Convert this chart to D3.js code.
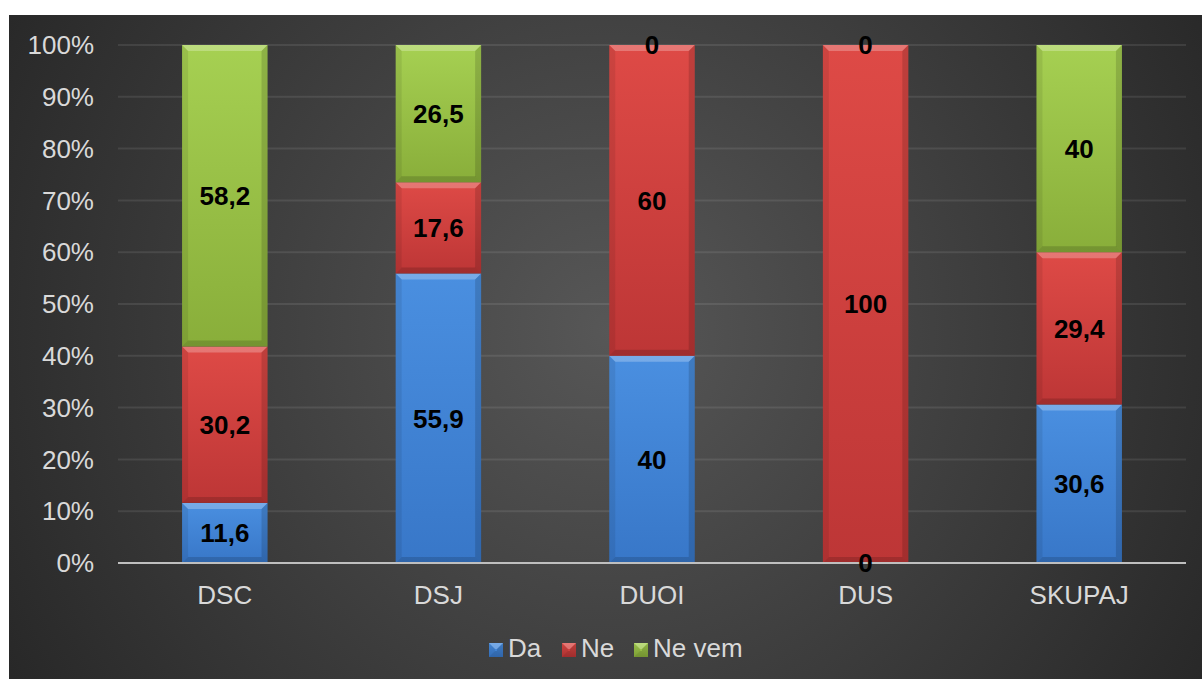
<!DOCTYPE html>
<html>
<head>
<meta charset="utf-8">
<script src="https://cdn.jsdelivr.net/npm/d3@7"></script>
<style>
  body { margin: 0; background: #fff; }
  text { font-family: "Liberation Sans", Arial, sans-serif; }
</style>
</head>
<body>
<div id="chart"></div>
<script>
// data
var categories = ["DSC", "DSJ", "DUOI", "DUS", "SKUPAJ"];
var da    = [11.6, 55.9, 40, 0, 30.6];
var ne    = [30.2, 17.6, 60, 100, 29.4];
var neVem = [58.2, 26.5, 0, 0, 40];
var seriesNames = ["Da", "Ne", "Ne vem"];
var yTicks = [0, 10, 20, 30, 40, 50, 60, 70, 80, 90, 100];

var width = 1202, height = 679;

var svg = d3.select("#chart").append("svg")
    .attr("width", width)
    .attr("height", height);

var defs = svg.append("defs");

// background gradient
var bg = defs.append("radialGradient")
    .attr("id", "bg")
    .attr("gradientUnits", "userSpaceOnUse")
    .attr("cx", 610).attr("cy", 330).attr("r", 720);
bg.append("stop").attr("offset", "0%").attr("stop-color", "#575757");
bg.append("stop").attr("offset", "55%").attr("stop-color", "#3c3c3c");
bg.append("stop").attr("offset", "100%").attr("stop-color", "#262626");

svg.append("rect")
    .attr("x", 9).attr("y", 15)
    .attr("width", width - 9).attr("height", height - 15)
    .style("fill", "url(#bg)");

// series colours
var colors = [
  {top: "#4a8fe0", bottom: "#3877c8"},
  {top: "#de4a46", bottom: "#bd3636"},
  {top: "#a6d052", bottom: "#89ae3a"}
];

colors.forEach(function(c, i) {
  var g = defs.append("linearGradient")
      .attr("id", "grad" + i)
      .attr("x1", 0).attr("y1", 0).attr("x2", 0).attr("y2", 1);
  g.append("stop").attr("offset", "0%").attr("stop-color", c.top);
  g.append("stop").attr("offset", "100%").attr("stop-color", c.bottom);
});

var x = d3.scaleBand()
    .domain(categories)
    .range([118, 1186])
    .paddingInner(0.6)
    .paddingOuter(0.3);

var y = d3.scaleLinear()
    .domain([0, 100])
    .range([563, 45]);

// gridlines
svg.selectAll(".grid")
    .data(yTicks.slice(1))
    .enter()
    .append("line")
    .attr("class", "grid")
    .attr("x1", 118).attr("x2", 1186)
    .attr("y1", function(d) { return y(d); })
    .attr("y2", function(d) { return y(d); })
    .style("stroke", "rgba(255,255,255,0.09)")
    .style("stroke-width", 2);

// y tick labels
svg.selectAll(".ytick")
    .data(yTicks)
    .enter()
    .append("text")
    .attr("class", "ytick")
    .attr("x", 94)
    .attr("y", function(d) { return y(d); })
    .attr("dy", "0.35em")
    .attr("text-anchor", "end")
    .style("font-size", "26px")
    .style("fill", "#d9d9d9")
    .text(function(d) { return d + "%"; });

// stack
var rows = categories.map(function(c, i) {
  return {cat: c, Da: da[i], Ne: ne[i], "Ne vem": neVem[i]};
});
var stacked = d3.stack().keys(seriesNames)(rows);

function bevel(g, x0, y0, w, h) {
  var b = Math.min(6, h / 2);
  if (h <= 0) return;
  g.append("polygon")
    .attr("points", [[x0, y0], [x0 + w, y0], [x0 + w - b, y0 + b], [x0 + b, y0 + b]].join(" "))
    .style("fill", "rgba(255,255,255,0.25)");
  g.append("polygon")
    .attr("points", [[x0, y0 + h], [x0 + w, y0 + h], [x0 + w - b, y0 + h - b], [x0 + b, y0 + h - b]].join(" "))
    .style("fill", "rgba(0,0,0,0.15)");
  g.append("polygon")
    .attr("points", [[x0, y0], [x0 + b, y0 + b], [x0 + b, y0 + h - b], [x0, y0 + h]].join(" "))
    .style("fill", "rgba(0,0,0,0.08)");
  g.append("polygon")
    .attr("points", [[x0 + w, y0], [x0 + w - b, y0 + b], [x0 + w - b, y0 + h - b], [x0 + w, y0 + h]].join(" "))
    .style("fill", "rgba(0,0,0,0.14)");
}

stacked.forEach(function(layer, si) {
  var g = svg.append("g").attr("class", "series-" + si);
  layer.forEach(function(d) {
    var x0 = x(d.data.cat), w = x.bandwidth();
    var y0 = y(d[1]), h = y(d[0]) - y(d[1]);
    if (h <= 0) return;
    g.append("rect")
      .attr("x", x0).attr("y", y0)
      .attr("width", w).attr("height", h)
      .style("fill", "url(#grad" + si + ")");
    bevel(g, x0, y0, w, h);
  });
});

// axis line
svg.append("line")
    .attr("x1", 118).attr("x2", 1186)
    .attr("y1", y(0)).attr("y2", y(0))
    .style("stroke", "#bfbfbf")
    .style("stroke-width", 2);

// data labels
stacked.forEach(function(layer, si) {
  svg.selectAll(".lbl" + si)
    .data(layer)
    .enter()
    .append("text")
    .attr("class", "lbl" + si)
    .attr("x", function(d) { return x(d.data.cat) + x.bandwidth() / 2; })
    .attr("y", function(d) { return (y(d[0]) + y(d[1])) / 2; })
    .attr("dy", "0.36em")
    .attr("text-anchor", "middle")
    .style("font-size", "26px")
    .style("font-weight", "bold")
    .style("fill", "#000")
    .text(function(d) { return String(d.data[layer.key]).replace(".", ","); });
});

// category labels
svg.selectAll(".xtick")
    .data(categories)
    .enter()
    .append("text")
    .attr("class", "xtick")
    .attr("x", function(d) { return x(d) + x.bandwidth() / 2; })
    .attr("y", 604)
    .attr("text-anchor", "middle")
    .style("font-size", "26px")
    .style("fill", "#d9d9d9")
    .text(function(d) { return d; });

// legend
var legendX = [489, 562, 634];
var legend = svg.append("g").attr("class", "legend");
seriesNames.forEach(function(name, i) {
  var lx = legendX[i];
  legend.append("rect")
    .attr("x", lx).attr("y", 643)
    .attr("width", 14).attr("height", 14)
    .style("fill", "url(#grad" + i + ")");
  bevel(legend, lx, 643, 14, 14);
  legend.append("text")
    .attr("x", lx + 19).attr("y", 657)
    .style("font-size", "26px")
    .style("fill", "#d9d9d9")
    .text(name);
});
</script>
</body>
</html>
